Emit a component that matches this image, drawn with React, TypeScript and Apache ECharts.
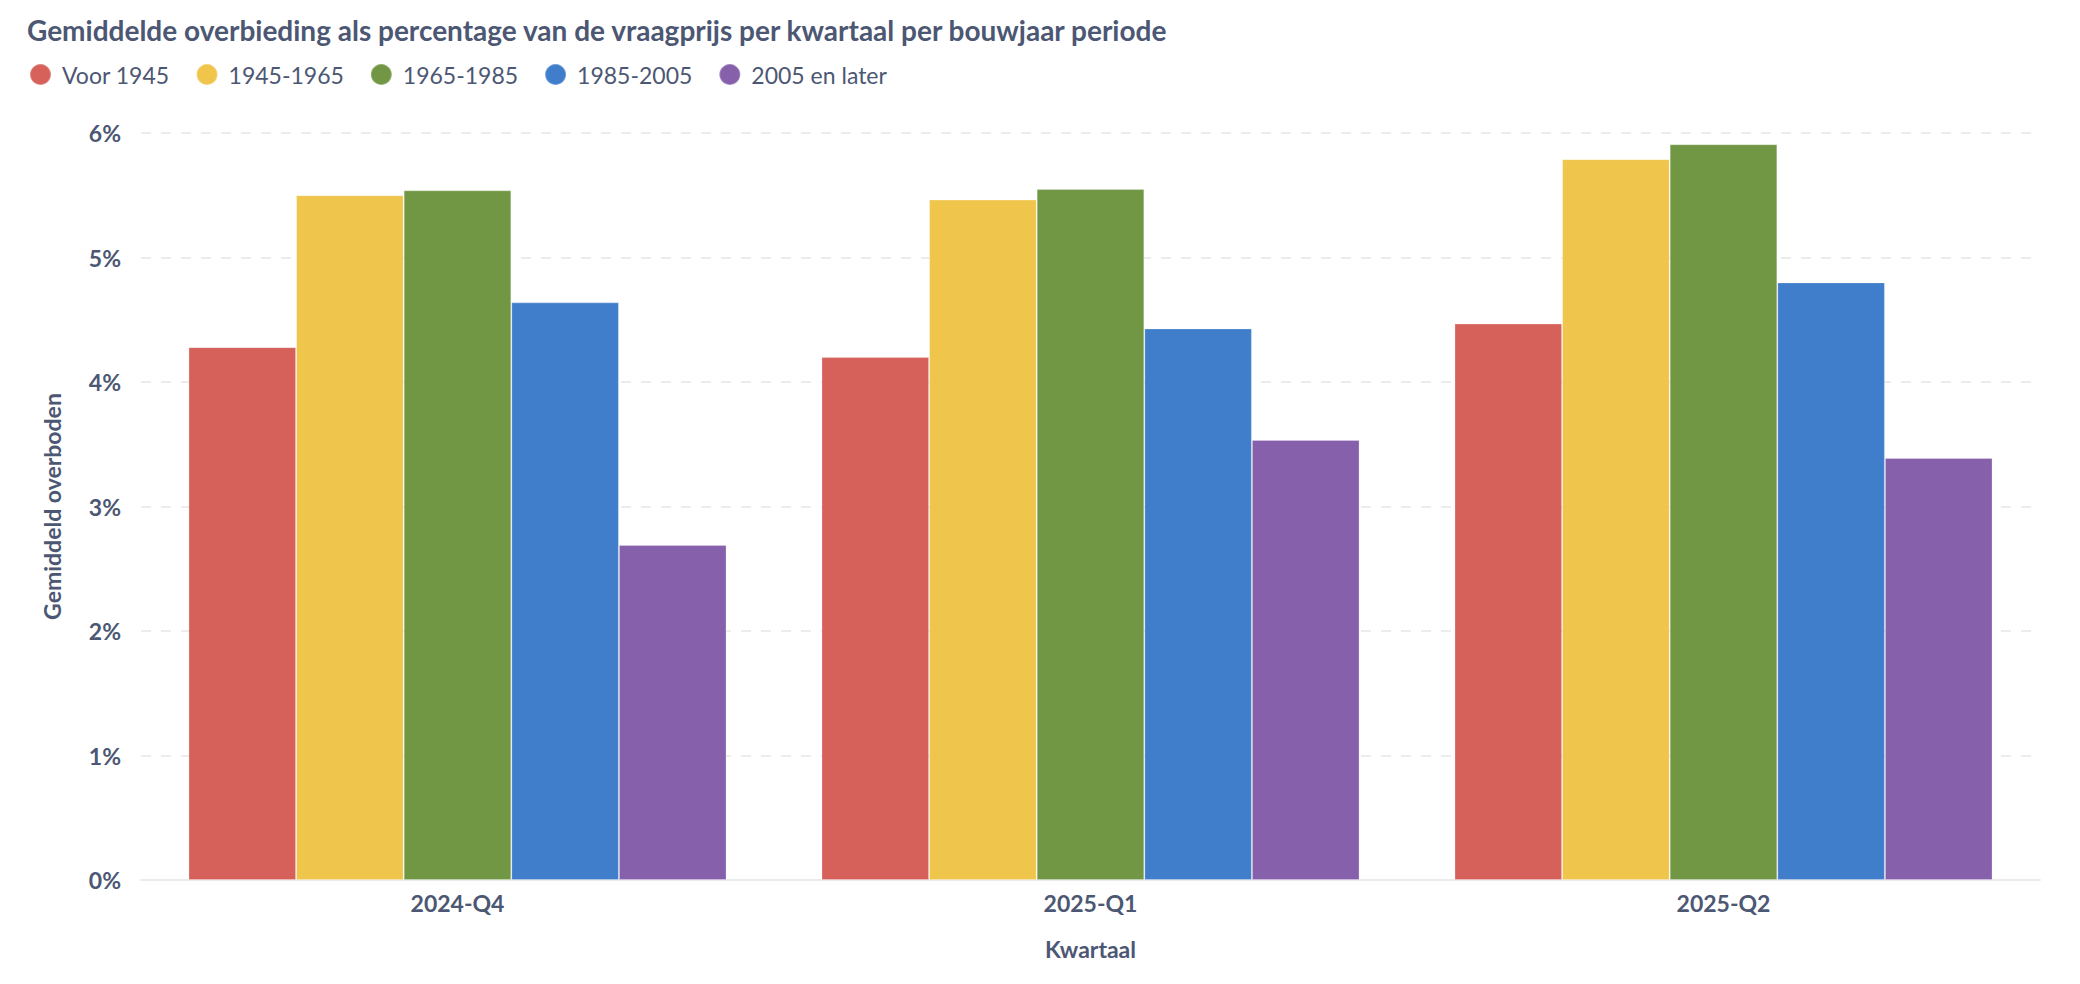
import React, { useEffect, useRef } from "react";
import * as echarts from "echarts";

const TITLE = "Gemiddelde overbieding als percentage van de vraagprijs per kwartaal per bouwjaar periode";
const categories = ["2024-Q4", "2025-Q1", "2025-Q2"];
const seriesNames = ["Voor 1945", "1945-1965", "1965-1985", "1985-2005", "2005 en later"];
const voor1945 = [4.28, 4.2, 4.47];
const p1945_1965 = [5.5, 5.465, 5.79];
const p1965_1985 = [5.54, 5.55, 5.91];
const p1985_2005 = [4.64, 4.43, 4.8];
const p2005Later = [2.69, 3.535, 3.39];
const colors = ["#D6605A", "#F0C54C", "#719744", "#407ECB", "#8660AB"];
const yTicks = [0, 1, 2, 3, 4, 5, 6];

const TEXT = "#4c5773";
const FONT = "Lato, 'Noto Sans', sans-serif";

export default function App() {
  const ref = useRef<HTMLDivElement>(null);
  useEffect(() => {
    if (!ref.current) return;
    const chart = echarts.init(ref.current, null, { renderer: "svg" });
    const data = [voor1945, p1945_1965, p1965_1985, p1985_2005, p2005Later];
    chart.setOption({
      animation: false,
      textStyle: { fontFamily: FONT },
      title: {
        text: TITLE,
        left: 27,
        top: 16,
        padding: 0,
        textStyle: { fontFamily: FONT, fontSize: 28, fontWeight: 700, color: TEXT },
      },
      legend: {
        left: 29,
        top: 63,
        padding: 0,
        icon: "circle",
        itemWidth: 21,
        itemHeight: 21,
        itemGap: 26,
        data: seriesNames,
        textStyle: { fontFamily: FONT, fontSize: 23, color: TEXT, padding: [0, 0, 0, 6] },
      },
      grid: { left: 141, right: 40, top: 133, bottom: 104, containLabel: false },
      xAxis: {
        type: "category",
        data: categories,
        name: "Kwartaal",
        nameLocation: "middle",
        nameGap: 57,
        nameTextStyle: { fontFamily: FONT, fontSize: 23, fontWeight: 700, color: TEXT },
        axisLine: { show: true, lineStyle: { color: "#ebebeb", width: 2 } },
        axisTick: { show: false },
        axisLabel: { margin: 11, fontFamily: FONT, fontSize: 23, fontWeight: 700, color: TEXT },
      },
      yAxis: {
        type: "value",
        min: yTicks[0],
        max: yTicks[yTicks.length - 1],
        interval: 1,
        name: "Gemiddeld overboden",
        nameLocation: "middle",
        nameGap: 78,
        nameTextStyle: { fontFamily: FONT, fontSize: 23, fontWeight: 700, color: TEXT },
        axisLine: { show: false },
        axisTick: { show: false },
        axisLabel: {
          margin: 20,
          formatter: "{value}%",
          fontFamily: FONT,
          fontSize: 23,
          fontWeight: 700,
          color: TEXT,
        },
        splitLine: { show: true, lineStyle: { color: "#ececec", width: 2, type: [10, 10] } },
      },
      series: seriesNames.map((name, i) => ({
        name,
        type: "bar",
        data: data[i],
        barGap: "0%",
        barCategoryGap: "15%",
        itemStyle: { color: colors[i], borderColor: "rgba(255,255,255,0.25)", borderWidth: 1 },
      })),
    });
    return () => chart.dispose();
  }, []);
  return (
    <div
      ref={ref}
      style={{ position: "absolute", left: 0, top: 0, width: 2080, height: 984, background: "#fff" }}
    />
  );
}
